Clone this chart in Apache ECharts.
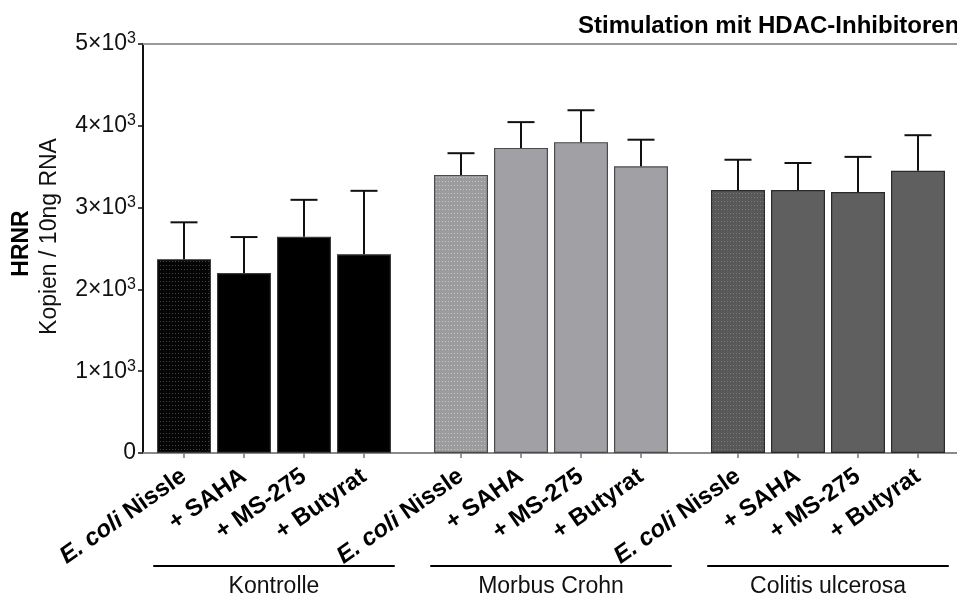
<!DOCTYPE html>
<html>
<head>
<meta charset="utf-8">
<script src="https://cdn.jsdelivr.net/npm/echarts@6/dist/echarts.min.js"></script>
<style>
html,body{margin:0;padding:0;background:#fff;}
#chart{width:957px;height:599px;}
</style>
</head>
<body>
<div id="chart"></div>
<script>
// ---- data ----
const titleText = 'Stimulation mit HDAC-Inhibitoren';
const groups = ['Kontrolle', 'Morbus Crohn', 'Colitis ulcerosa'];
const treatments = ['E. coli Nissle', '+ SAHA', '+ MS-275', '+ Butyrat'];
const kontrolleMean = [2370, 2200, 2645, 2430];
const kontrolleSD   = [450, 440, 450, 775];
const crohnMean     = [3400, 3730, 3800, 3505];
const crohnSD       = [265, 315, 390, 325];
const colitisMean   = [3215, 3215, 3190, 3450];
const colitisSD     = [370, 330, 430, 435];
const yTicks = [0, 1000, 2000, 3000, 4000, 5000];
const yTitleBold = 'HRNR';
const yTitle = 'Kopien / 10ng RNA';

// ---- styles / layout ----
const FONT = '"Liberation Sans", Arial, Helvetica, sans-serif';
const means = [kontrolleMean, crohnMean, colitisMean];
const sds = [kontrolleSD, crohnSD, colitisSD];
const gridTop = 44, gridBottom = 146, axisLeft = 143;
const groupLeft = [154, 431, 708];
const groupWidth = 240;
const styles = [
  {base: '#000000', dotBase: '#050505', dot: '#444444', border: '#3a3a3a'},
  {base: '#a1a0a5', dotBase: '#9c9c9e', dot: '#c4c4c6', border: '#4a4a4a'},
  {base: '#5f5f5f', dotBase: '#585858', dot: '#7a7a7a', border: '#2a2a2a'}
];
function dots(base, dot) {
  const c = document.createElement('canvas');
  c.width = 3; c.height = 4;
  const ctx = c.getContext('2d');
  ctx.fillStyle = base; ctx.fillRect(0, 0, 3, 4);
  ctx.fillStyle = dot; ctx.fillRect(1, 1, 1, 1);
  return c;
}

const chart = echarts.init(document.getElementById('chart'));

const grids = [{left: axisLeft, right: 0, top: gridTop, bottom: gridBottom}];
const xAxes = [
  {gridIndex: 0, type: 'value', min: 0, max: 1, position: 'bottom',
   axisLine: {show: true, lineStyle: {color: '#8a8a8a', width: 2}},
   axisTick: {show: false}, axisLabel: {show: false}, splitLine: {show: false}},
  {gridIndex: 0, type: 'value', min: 0, max: 1, position: 'top',
   axisLine: {show: true, lineStyle: {color: '#9a9a9a', width: 2}},
   axisTick: {show: false}, axisLabel: {show: false}, splitLine: {show: false}}
];
const yAxes = [{
  gridIndex: 0, type: 'value', min: yTicks[0], max: yTicks[yTicks.length - 1], interval: 1000,
  axisLine: {show: true, lineStyle: {color: '#111', width: 2}},
  axisTick: {show: true, length: 5, lineStyle: {color: '#111', width: 1.5}},
  splitLine: {show: false},
  axisLabel: {
    margin: 7,
    formatter: v => v === 0 ? '{n|0}' : '{n|' + (v / 1000) + '×10}{s|3}',
    rich: {
      n: {fontSize: 23, fontFamily: FONT, color: '#111', lineHeight: 26},
      s: {fontSize: 16, fontFamily: FONT, color: '#111', lineHeight: 14, verticalAlign: 'top'}
    }
  }
}];
const series = [];

groups.forEach((g, gi) => {
  const gIdx = gi + 1;
  grids.push({left: groupLeft[gi], width: groupWidth, top: gridTop, bottom: gridBottom});
  const st = styles[gi];
  const catAxisIndex = xAxes.length;
  xAxes.push({
    gridIndex: gIdx, type: 'category', data: treatments, position: 'bottom',
    axisLine: {show: false},
    axisTick: {show: true, alignWithLabel: true, length: 5, lineStyle: {color: '#777', width: 1.5}},
    axisLabel: {
      rotate: 35, margin: 21, interval: 0, color: '#000',
      fontSize: 24, fontWeight: 'bold', fontStyle: 'normal', fontFamily: FONT,
      formatter: v => v.indexOf('E. coli') === 0 ? '{i|E. coli}{b| ' + v.slice(8) + '}' : '{b|' + v + '}',
      rich: {
        i: {fontSize: 24, fontWeight: 'bold', fontStyle: 'italic', fontFamily: FONT, color: '#000'},
        b: {fontSize: 24, fontWeight: 'bold', fontStyle: 'normal', fontFamily: FONT, color: '#000'}
      }
    }
  });
  xAxes.push({
    gridIndex: gIdx, type: 'category', data: [g], position: 'bottom', offset: 113,
    axisLine: {show: true, lineStyle: {color: '#000', width: 2}},
    axisTick: {show: false},
    axisLabel: {margin: 9, fontSize: 23, fontFamily: FONT, color: '#111'}
  });
  yAxes.push({gridIndex: gIdx, type: 'value', min: 0, max: 5000, show: false});
  const yIdx = yAxes.length - 1;
  series.push({
    type: 'bar', xAxisIndex: catAxisIndex, yAxisIndex: yIdx, barWidth: 54,
    data: means[gi].map((m, i) => ({
      value: m,
      itemStyle: {
        color: i === 0 ? {image: dots(st.dotBase, st.dot), repeat: 'repeat'} : st.base,
        borderColor: st.border, borderWidth: 1.2
      }
    })),
    silent: true
  });
  series.push({
    type: 'custom', xAxisIndex: catAxisIndex, yAxisIndex: yIdx, z: 5, silent: true,
    data: means[gi].map((m, i) => [i, m, sds[gi][i]]),
    renderItem: (params, api) => {
      const top = api.coord([api.value(0), api.value(1)]);
      const cap = api.coord([api.value(0), api.value(1) + api.value(2)]);
      const hw = 13.5;
      return {
        type: 'group',
        children: [
          {type: 'line', shape: {x1: top[0], y1: top[1], x2: cap[0], y2: cap[1]},
           style: {stroke: '#111', lineWidth: 2}},
          {type: 'line', shape: {x1: cap[0] - hw, y1: cap[1], x2: cap[0] + hw, y2: cap[1]},
           style: {stroke: '#111', lineWidth: 2}}
        ]
      };
    }
  });
});

chart.setOption({
  animation: false,
  backgroundColor: '#fff',
  title: {
    text: titleText, left: 578, top: 14, padding: 0,
    textStyle: {fontSize: 24, fontWeight: 'bold', fontFamily: FONT, color: '#000'}
  },
  grid: grids,
  xAxis: xAxes,
  yAxis: yAxes,
  series: series,
  graphic: [
    {type: 'text', x: 22, y: 243.5, rotation: Math.PI / 2,
     style: {text: yTitleBold, font: 'bold 23px ' + FONT, fill: '#000', textAlign: 'center', textVerticalAlign: 'middle'}},
    {type: 'text', x: 50, y: 236.5, rotation: Math.PI / 2,
     style: {text: yTitle, font: '23px ' + FONT, fill: '#111', textAlign: 'center', textVerticalAlign: 'middle'}}
  ]
});
</script>
</body>
</html>
